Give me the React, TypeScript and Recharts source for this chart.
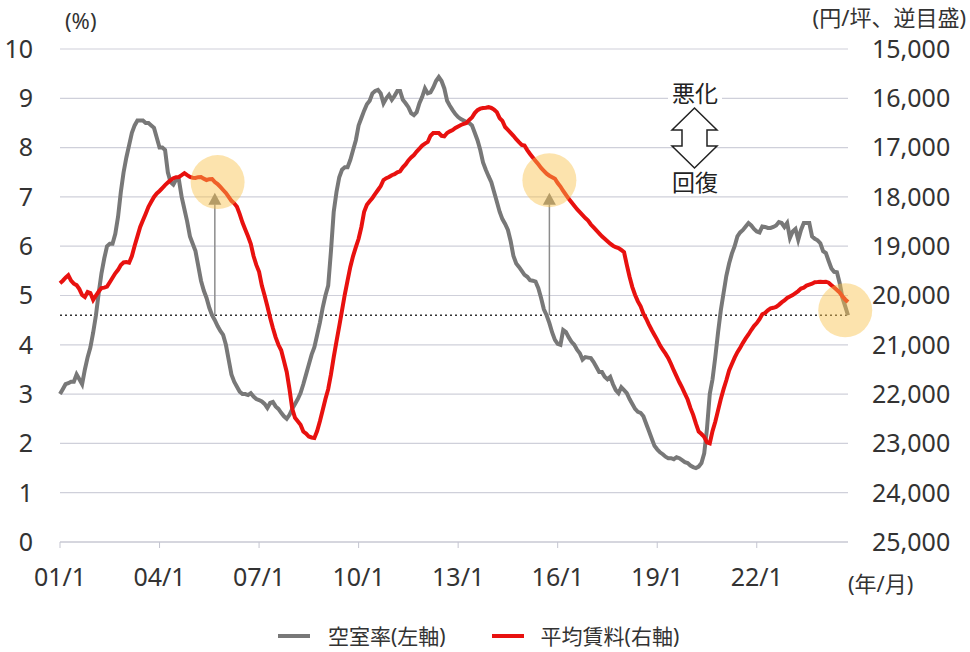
import React from 'react';
import { LineChart, Line, XAxis, YAxis, CartesianGrid, ReferenceLine, ReferenceDot } from 'recharts';

// monthly labels 01/1 .. 24/10
const labels: string[] = [];
for (let y = 1; y <= 24; y++) {
    for (let m = 1; m <= 12; m++) {
        if (y === 24 && m > 10) break;
        labels.push(`${String(y).padStart(2, '0')}/${m}`);
    }
}

const xTicks = ['01/1', '04/1', '07/1', '10/1', '13/1', '16/1', '19/1', '22/1'];
const leftTicks = [0, 1, 2, 3, 4, 5, 6, 7, 8, 9, 10];
const rightTicks = [15000, 16000, 17000, 18000, 19000, 20000, 21000, 22000, 23000, 24000, 25000];

// 空室率 (%), monthly
const vacancy = [
    3.0, 3.1, 3.2, 3.22, 3.25, 3.25, 3.4, 3.3, 3.2, 3.5, 3.75, 3.95,
    4.25, 4.6, 5.05, 5.45, 5.75, 6.0, 6.05, 6.05, 6.25, 6.6, 7.1, 7.5,
    7.8, 8.05, 8.3, 8.45, 8.55, 8.55, 8.55, 8.5, 8.5, 8.45, 8.4, 8.2,
    8.0, 8.0, 7.95, 7.5, 7.3, 7.25, 7.35, 7.35, 7.0, 6.75, 6.5, 6.2,
    6.05, 5.9, 5.6, 5.3, 5.1, 4.95, 4.75, 4.6, 4.5, 4.38, 4.28, 4.2,
    4.0, 3.7, 3.4, 3.25, 3.15, 3.05, 3.0, 3.0, 2.98, 3.02, 2.95, 2.9,
    2.88, 2.85, 2.8, 2.72, 2.82, 2.84, 2.75, 2.7, 2.62, 2.55, 2.5, 2.58,
    2.7, 2.8, 2.9, 3.02, 3.2, 3.4, 3.6, 3.8, 3.95, 4.2, 4.45, 4.75,
    5.0, 5.2, 5.9, 6.7, 7.1, 7.4, 7.55, 7.6, 7.6, 7.75, 7.95, 8.15,
    8.45, 8.6, 8.75, 8.88, 8.95, 9.1, 9.15, 9.17, 9.1, 8.9, 9.0, 9.07,
    8.97, 9.05, 9.15, 9.15, 8.97, 8.9, 8.82, 8.7, 8.66, 8.72, 8.9, 9.03,
    9.2, 9.1, 9.12, 9.22, 9.35, 9.43, 9.35, 9.2, 8.95, 8.85, 8.76, 8.68,
    8.62, 8.58, 8.55, 8.52, 8.5, 8.45, 8.3, 8.15, 7.95, 7.7, 7.55, 7.42,
    7.3, 7.1, 6.9, 6.7, 6.55, 6.45, 6.33, 6.1, 5.8, 5.65, 5.58, 5.5,
    5.42, 5.38, 5.31, 5.3, 5.28, 5.15, 4.95, 4.72, 4.6, 4.44, 4.25, 4.1,
    4.02, 4.0, 4.3, 4.26, 4.15, 4.06, 4.0, 3.9, 3.83, 3.7, 3.75, 3.74,
    3.73, 3.65, 3.55, 3.45, 3.45, 3.35, 3.3, 3.35, 3.2, 3.08, 3.02, 3.14,
    3.08, 3.02, 2.9, 2.8, 2.7, 2.64, 2.62, 2.55, 2.4, 2.25, 2.1, 1.95,
    1.88, 1.82, 1.78, 1.73, 1.7, 1.7, 1.68, 1.72, 1.7, 1.66, 1.62, 1.6,
    1.55, 1.52, 1.5, 1.53, 1.6, 1.8, 2.3, 3.0, 3.3, 3.75, 4.25, 4.7,
    5.05, 5.4, 5.65, 5.85, 6.0, 6.2, 6.28, 6.33, 6.4, 6.47, 6.42, 6.35,
    6.3, 6.28, 6.4, 6.39, 6.37, 6.37, 6.39, 6.42, 6.49, 6.47, 6.39, 6.47,
    6.17, 6.3, 6.35, 6.13, 6.33, 6.47, 6.47, 6.47, 6.2, 6.15, 6.12, 6.06,
    5.9, 5.86, 5.7, 5.55, 5.48, 5.47, 5.25, 4.95, 4.78, 4.6,
];

// 平均賃料 (円/坪), monthly
const rent = [
    19750, 19700, 19640, 19590, 19700, 19760, 19790, 19870, 19990, 20030, 19930, 19950,
    20090, 20000, 19920, 19850, 19840, 19820, 19730, 19640, 19550, 19480, 19380, 19330,
    19320, 19335, 19200, 18990, 18800, 18610, 18475, 18340, 18200, 18100, 18000, 17930,
    17880, 17820, 17760, 17710, 17660, 17620, 17600, 17596, 17560, 17520, 17560, 17596,
    17610, 17616, 17600, 17596, 17630, 17657, 17640, 17636, 17700, 17740, 17799, 17860,
    17920, 18000, 18080, 18130, 18200, 18350, 18520, 18660, 18800, 18950, 19200, 19380,
    19520, 19800, 20000, 20220, 20450, 20660, 20850, 21000, 21110, 21330, 21550, 21900,
    22300, 22480, 22550, 22620, 22760, 22800, 22860, 22880, 22890, 22750, 22550, 22330,
    22100, 21900, 21600, 21250, 20930, 20620, 20300, 19980, 19700, 19420, 19200, 19020,
    18850, 18610, 18300, 18160, 18090, 18022, 17940, 17860, 17780, 17657, 17620, 17596,
    17560, 17540, 17500, 17480, 17400, 17340, 17260, 17200, 17150, 17080, 17020, 16960,
    16920, 16886, 16760, 16704, 16704, 16704, 16760, 16770, 16704, 16670, 16643, 16600,
    16570, 16541, 16520, 16500, 16440, 16390, 16300, 16240, 16210, 16196, 16190, 16180,
    16196, 16230, 16280, 16400, 16460, 16582, 16640, 16700, 16760, 16830, 16890, 16947,
    16960, 17050, 17130, 17200, 17270, 17340, 17413, 17470, 17530, 17570, 17600, 17630,
    17720, 17790, 17880, 17961, 18040, 18110, 18180, 18250, 18310, 18370, 18430, 18480,
    18560, 18620, 18680, 18740, 18800, 18850, 18900, 18950, 18990, 19020, 19040, 19076,
    19120, 19380, 19620, 19830, 19990, 20120, 20220, 20370, 20470, 20590, 20700, 20800,
    20900, 21010, 21100, 21180, 21270, 21390, 21520, 21640, 21760, 21870, 21990, 22110,
    22280, 22420, 22600, 22760, 22810, 22870, 22980, 23000, 22750, 22560, 22330, 22100,
    21900, 21720, 21520, 21390, 21260, 21150, 21060, 20960, 20870, 20790, 20700, 20620,
    20560, 20480, 20380, 20354, 20300, 20260, 20250, 20232, 20190, 20140, 20100, 20050,
    20020, 19990, 19950, 19910, 19860, 19840, 19800, 19780, 19760, 19730, 19726, 19720,
    19726, 19720, 19740, 19790, 19840, 19888, 19940, 20020, 20080, 20130,
];

const data = labels.map((label, i) => ({ label, vacancy: vacancy[i], rent: rent[i] }));

const FONT = "'Noto Sans', 'Noto Sans CJK JP', sans-serif";
const GRID = '#cfd0da';
const GRAY = '#787878';
const RED = '#e8110f';
const CIRCLE = '#f8c14a';

const triangle = (props: any) => {
    const { cx, cy } = props;
    return <path d={`M${cx},${cy - 6} L${cx + 6.5},${cy + 6} L${cx - 6.5},${cy + 6} Z`} fill="#7f7f7f" />;
};

export default function App() {
    const tick = { fontSize: 25, fill: '#333', fontFamily: FONT };
    return (
        <div style={{ position: 'absolute', left: 0, top: 0, width: 970, height: 652, background: '#fff', fontFamily: FONT, overflow: 'hidden' }}>
            <LineChart width={970} height={652} data={data} margin={{ top: 49, right: 0, left: 0, bottom: 50 }}>
                <CartesianGrid yAxisId="left" vertical={false} stroke={GRID} strokeWidth={1.2} />
                <XAxis
                    dataKey="label"
                    ticks={xTicks}
                    interval={0}
                    height={60}
                    stroke="#c4c5d0"
                    tick={tick}
                    tickSize={6}
                    tickMargin={20}
                />
                <YAxis
                    yAxisId="left"
                    domain={[0, 10]}
                    ticks={leftTicks}
                    width={60}
                    axisLine={false}
                    tickLine={false}
                    tick={tick}
                    tickMargin={21}
                />
                <YAxis
                    yAxisId="right"
                    orientation="right"
                    domain={[15000, 25000]}
                    reversed
                    ticks={rightTicks}
                    width={122}
                    axisLine={false}
                    tickLine={false}
                    tick={tick}
                    tickMargin={18}
                    tickFormatter={(v: number) => v.toLocaleString('en-US')}
                />
                <ReferenceLine yAxisId="left" y={4.6} stroke="#333" strokeWidth={1.5} strokeDasharray="2 3" />
                <ReferenceLine
                    yAxisId="left"
                    segment={[{ x: '05/9', y: 4.6 }, { x: '05/9', y: 6.85 }]}
                    stroke="#8c8c8c"
                    strokeWidth={1.5}
                />
                <ReferenceLine
                    yAxisId="left"
                    segment={[{ x: '15/10', y: 4.6 }, { x: '15/10', y: 6.85 }]}
                    stroke="#8c8c8c"
                    strokeWidth={1.5}
                />
                <Line yAxisId="left" type="linear" dataKey="vacancy" stroke={GRAY} strokeWidth={4} dot={false} isAnimationActive={false} />
                <Line yAxisId="right" type="linear" dataKey="rent" stroke={RED} strokeWidth={4} dot={false} isAnimationActive={false} />
                <ReferenceDot yAxisId="left" x="05/9" y={6.96} shape={triangle} />
                <ReferenceDot yAxisId="left" x="15/10" y={6.96} shape={triangle} />
                <ReferenceDot yAxisId="left" x="05/10" y={7.3} r={27} fill={CIRCLE} fillOpacity={0.45} stroke="none" />
                <ReferenceDot yAxisId="left" x="15/10" y={7.34} r={27} fill={CIRCLE} fillOpacity={0.45} stroke="none" />
                <ReferenceDot yAxisId="left" x="24/9" y={4.7} r={27} fill={CIRCLE} fillOpacity={0.45} stroke="none" />
            </LineChart>

            <svg width={970} height={652} style={{ position: 'absolute', left: 0, top: 0, pointerEvents: 'none' }}>
                <text x={65} y={29} fontSize={22} fill="#333" fontFamily={FONT}>(%)</text>
                <text x={966} y={26} fontSize={22} fill="#333" fontFamily={FONT} textAnchor="end">(円/坪、逆目盛)</text>
                <text x={848} y={592} fontSize={22} fill="#333" fontFamily={FONT}>(年/月)</text>

                <rect x={668} y={82} width={54} height={25} fill="#fff" />
                <text x={695} y={102} fontSize={23} fill="#222" fontFamily={FONT} textAnchor="middle">悪化</text>
                <polygon
                    points="694.5,108 672,130 682,130 682,146 672,146 694.5,168 717,146 707,146 707,130 717,130"
                    fill="#fff"
                    stroke="#222"
                    strokeWidth={1.5}
                />
                <rect x={668} y={170} width={54} height={24} fill="#fff" />
                <text x={695} y={191} fontSize={23} fill="#222" fontFamily={FONT} textAnchor="middle">回復</text>
            </svg>

            <div style={{ position: 'absolute', left: 278, top: 624, height: 24, display: 'flex', alignItems: 'center', fontSize: 21, lineHeight: '24px', color: '#333', whiteSpace: 'nowrap' }}>
                <div style={{ width: 32, height: 4, background: GRAY }} />
                <span style={{ marginLeft: 18 }}>空室率(左軸)</span>
                <div style={{ width: 32, height: 4, background: RED, marginLeft: 46 }} />
                <span style={{ marginLeft: 17 }}>平均賃料(右軸)</span>
            </div>
        </div>
    );
}
